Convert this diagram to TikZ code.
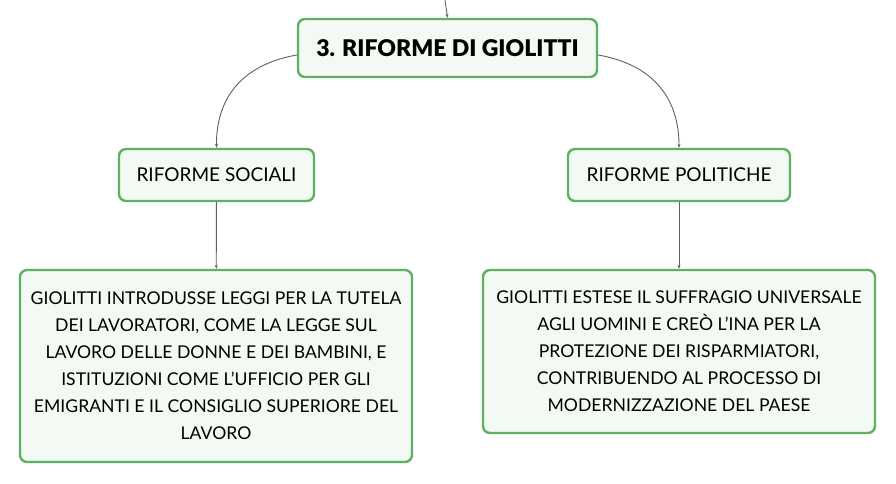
\documentclass[tikz,border=0pt]{standalone}
\usepackage{fontspec}
\setmainfont{Lato}
\newfontfamily\blackfont{Lato Black}
\usetikzlibrary{arrows.meta}
\definecolor{bord}{RGB}{92,178,98}
\definecolor{fillg}{RGB}{243,250,243}
\definecolor{conn}{RGB}{95,95,95}
\begin{document}
\begin{tikzpicture}[x=1pt,y=-1pt,
  box/.style={draw=bord,line width=2.4pt,fill=fillg,rounded corners=7pt,inner sep=0pt,align=center},
  con/.style={draw=conn,line width=0.9pt,-{Stealth[length=4pt,width=3pt]}}]
\useasboundingbox (0,0) rectangle (896,483);
\coordinate (top) at (445,0);
\node[box,minimum width=299pt,minimum height=58pt,font=\fontsize{23}{26}\selectfont\blackfont] (main) at (447.5,48) {3. RIFORME DI GIOLITTI};
\node[box,minimum width=195pt,minimum height=52pt,font=\fontsize{19}{22}\selectfont] (soc) at (216.5,175) {RIFORME SOCIALI};
\node[box,minimum width=222pt,minimum height=52pt,font=\fontsize{19}{22}\selectfont] (pol) at (679,175) {RIFORME POLITICHE};
\node[box,minimum width=392pt,minimum height=192pt,font=\fontsize{17.6}{27}\selectfont] (lb) at (216,366) {GIOLITTI INTRODUSSE LEGGI PER LA TUTELA\\DEI LAVORATORI, COME LA LEGGE SUL\\LAVORO DELLE DONNE E DEI BAMBINI, E\\ISTITUZIONI COME L'UFFICIO PER GLI\\EMIGRANTI E IL CONSIGLIO SUPERIORE DEL\\LAVORO};
\node[box,minimum width=392pt,minimum height=163pt,font=\fontsize{17.6}{27}\selectfont] (rb) at (679,351.5) {GIOLITTI ESTESE IL SUFFRAGIO UNIVERSALE\\AGLI UOMINI E CREÒ L'INA PER LA\\PROTEZIONE DEI RISPARMIATORI,\\CONTRIBUENDO AL PROCESSO DI\\MODERNIZZAZIONE DEL PAESE};
\draw[con] (top) -- (main.north);
\draw[con] ([yshift=-7pt]main.west) .. controls (240,65) and (216,100) .. (soc.north);
\draw[con] ([yshift=-7pt]main.east) .. controls (655,65) and (679,100) .. (pol.north);
\draw[con] (soc) -- (lb);
\draw[con] (pol) -- (rb);
\end{tikzpicture}
\end{document}
